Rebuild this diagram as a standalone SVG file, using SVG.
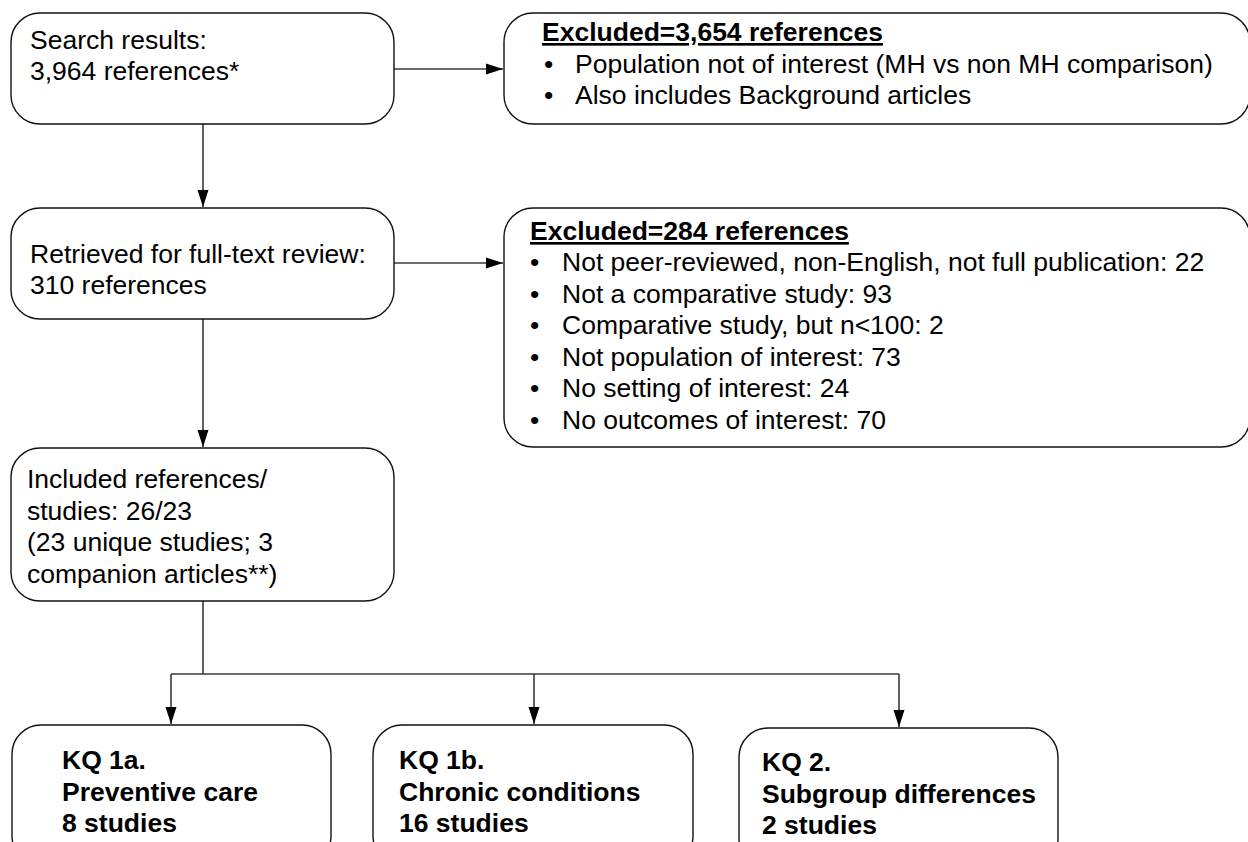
<svg xmlns="http://www.w3.org/2000/svg" width="1248" height="842" viewBox="0 0 1248 842">
<style>
.box{fill:#fff;stroke:#111;stroke-width:1.4}
.t{font-family:"Liberation Sans",Arial,sans-serif;font-size:26.5px;fill:#000}
.b{font-weight:bold}
.u{text-decoration:underline}
.c{fill:none;stroke:#3a3a3a;stroke-width:1.6}
</style>
<defs>
<marker id="ah" markerUnits="userSpaceOnUse" markerWidth="18" markerHeight="12" refX="17" refY="6" orient="auto">
<path d="M0,0.5 L17,6 L0,11.5 Z" fill="#000"/>
</marker>
</defs>
<rect width="1248" height="842" fill="#fff"/>
<g id="connectors">
<line class="c" x1="394" y1="69" x2="503" y2="69" marker-end="url(#ah)"/>
<line class="c" x1="394" y1="263" x2="503" y2="263" marker-end="url(#ah)"/>
<line class="c" x1="203" y1="124" x2="203" y2="207" marker-end="url(#ah)"/>
<line class="c" x1="203" y1="319" x2="203" y2="447" marker-end="url(#ah)"/>
<polyline class="c" points="203,601 203,674"/>
<polyline class="c" points="171,674 899,674"/>
<line class="c" x1="171" y1="674" x2="171" y2="724" marker-end="url(#ah)"/>
<line class="c" x1="534" y1="674" x2="534" y2="724" marker-end="url(#ah)"/>
<line class="c" x1="899" y1="674" x2="899" y2="727" marker-end="url(#ah)"/>
</g>
<g id="search">
<rect class="box" x="11" y="13" width="383" height="111" rx="29" ry="29"/>
<text class="t" x="30" y="49">Search results:</text>
<text class="t" x="30" y="80">3,964 references*</text>
</g>
<g id="excluded1">
<rect class="box" x="504" y="13" width="746" height="111" rx="29" ry="29"/>
<text class="t b u" x="542" y="41">Excluded=3,654 references</text>
<text class="t" x="544" y="73">•</text>
<text class="t" x="575" y="73">Population not of interest (MH vs non MH comparison)</text>
<text class="t" x="544" y="104">•</text>
<text class="t" x="575" y="104">Also includes Background articles</text>
</g>
<g id="retrieved">
<rect class="box" x="11" y="208" width="383" height="111" rx="29" ry="29"/>
<text class="t" x="30" y="263">Retrieved for full-text review:</text>
<text class="t" x="30" y="294">310 references</text>
</g>
<g id="excluded2">
<rect class="box" x="504" y="208" width="746" height="239" rx="29" ry="29"/>
<text class="t b u" x="530" y="240">Excluded=284 references</text>
<g class="t">
<text x="530" y="271">•</text><text x="562" y="271">Not peer-reviewed, non-English, not full publication: 22</text>
<text x="530" y="303">•</text><text x="562" y="303">Not a comparative study: 93</text>
<text x="530" y="334">•</text><text x="562" y="334">Comparative study, but n&lt;100: 2</text>
<text x="530" y="366">•</text><text x="562" y="366">Not population of interest: 73</text>
<text x="530" y="397">•</text><text x="562" y="397">No setting of interest: 24</text>
<text x="530" y="429">•</text><text x="562" y="429">No outcomes of interest: 70</text>
</g>
</g>
<g id="included">
<rect class="box" x="11" y="448" width="383" height="153" rx="29" ry="29"/>
<text class="t" x="27" y="488">Included references/</text>
<text class="t" x="27" y="520">studies: 26/23</text>
<text class="t" x="27" y="551">(23 unique studies; 3</text>
<text class="t" x="27" y="583">companion articles**)</text>
</g>
<g id="kq1a">
<rect class="box" x="12" y="725" width="319" height="140" rx="29" ry="29"/>
<text class="t b" x="62" y="769">KQ 1a.</text>
<text class="t b" x="62" y="801">Preventive care</text>
<text class="t b" x="62" y="832">8 studies</text>
</g>
<g id="kq1b">
<rect class="box" x="373" y="725" width="320" height="140" rx="29" ry="29"/>
<text class="t b" x="399" y="769">KQ 1b.</text>
<text class="t b" x="399" y="801">Chronic conditions</text>
<text class="t b" x="399" y="832">16 studies</text>
</g>
<g id="kq2">
<rect class="box" x="739" y="728" width="319" height="140" rx="29" ry="29"/>
<text class="t b" x="762" y="771">KQ 2.</text>
<text class="t b" x="762" y="803">Subgroup differences</text>
<text class="t b" x="762" y="834">2 studies</text>
</g>
</svg>
